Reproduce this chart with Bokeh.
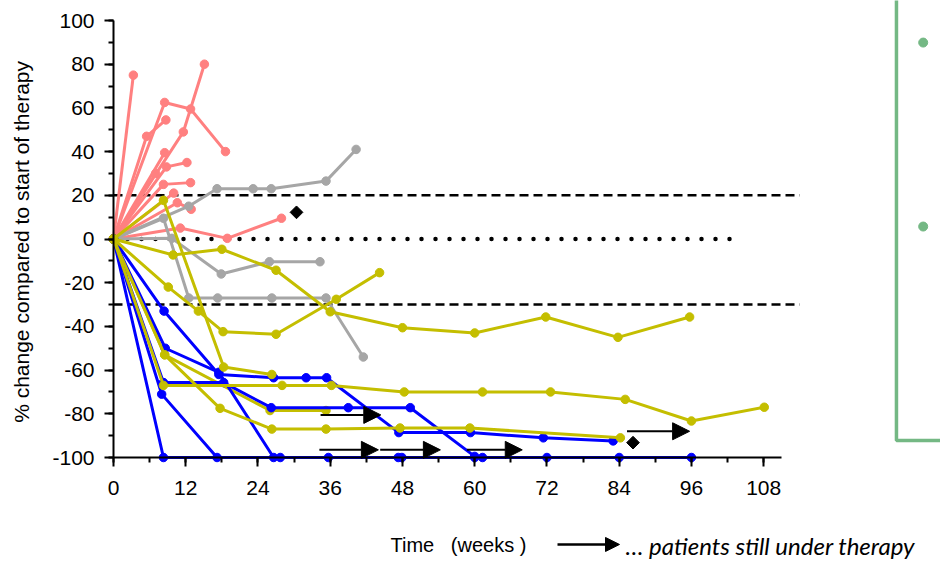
import math
from bokeh.plotting import figure
from bokeh.models import Arrow, NormalHead, Label, SingleIntervalTicker
from bokeh.embed import file_html
from bokeh.resources import INLINE

# ---------------- data (weeks, % change) ----------------
red_weeks = [
    [0, 3.3], [0, 8.5, 12.8, 18.6], [0, 11.6, 15.1], [0, 5.5, 8.7], [0, 8.5],
    [0, 8.8, 12.2], [0, 8.3, 12.8], [0, 10.6, 12.9], [0, 11.1, 18.9, 27.9],
    [0, 7.0], [0, 10.0],
]
red_values = [
    [0, 75], [0, 62.5, 59.5, 40], [0, 49, 80], [0, 47, 54.5], [0, 39.5],
    [0, 33, 35], [0, 25, 25.8], [0, 16.6, 13.6], [0, 5, 0.3, 9.5],
    [0, 30], [0, 21],
]

grey_weeks = [
    [0, 12.5, 17.2, 23.2, 26.2, 35.3, 40.3],
    [0, 8.3, 12.5, 17.3, 26.3, 35.3, 41.5],
    [0, 9.7, 17.9, 25.9, 34.3],
]
grey_values = [
    [0, 15, 23, 23, 23, 26.5, 41],
    [0, 9.5, -27, -27, -27, -27, -54],
    [0, 0.3, -16, -10.4, -10.4],
]

yellow_weeks = [
    [0, 8.5, 26, 35.3],
    [0, 8.3, 18.3, 26.3],
    [0, 9.9, 18, 27, 36, 48, 60, 71.8, 83.8, 95.7],
    [0, 9.1, 14.1, 18.2, 27, 37, 44.2],
    [0, 8.3, 28, 36.2, 48.3, 61.3, 72.6, 85, 96, 108.1],
    [0, 8.5, 17.7, 26.3, 35.3, 47.6, 59.2, 84.2],
]
yellow_values = [
    [0, -53, -78.5, -78.5],
    [0, 17.7, -58.6, -62],
    [0, -7.3, -4.7, -14.3, -33.3, -40.6, -43, -35.7, -45, -35.7],
    [0, -22, -33, -42.4, -43.6, -27.6, -15.4],
    [0, -67, -67, -67, -70, -70, -70, -73.4, -83.3, -77],
    [0, -53, -77.5, -87, -87, -86.5, -86.5, -91],
]

blue_weeks = [
    [0, 8.3, 35.7, 47.3, 60, 72, 84, 96],
    [0, 8, 17.2, 27.7, 47.9],
    [0, 8.6, 17.5, 26.6, 61.3],
    [0, 8.4, 17.5, 26.6, 32, 35.4, 47.4, 59.3, 71.4, 83],
    [0, 8.3, 18.3, 26.2, 39, 49.3, 60],
]
blue_values = [
    [0, -100, -100, -100, -100, -100, -100, -100],
    [0, -71, -100, -100, -100],
    [0, -50, -61, -100, -100],
    [0, -33, -62, -63.5, -63.5, -63.5, -88.6, -88.6, -91, -92.4],
    [0, -65.7, -65.7, -77.2, -77.2, -77.2, -99.5],
]

# "patients still under therapy" arrows
arrow_x0 = [34.4, 34.2, 44.3, 58.7, 85.3]
arrow_x1 = [44.4, 44.0, 54.3, 67.9, 95.7]
arrow_y = [-80.5, -96.5, -96.5, -96.5, -88.0]

# diamonds
diamond_x = [30.4, 86.3]
diamond_y = [12.2, -93.2]

# threshold lines
dashed_levels = [20, -30]
dotted_level = 0

x_ticks_interval = 12
y_ticks_interval = 20
y_tick_values = list(range(-100, 101, 20))

RED = "#FF8080"
GREY = "#A6A6A6"
YELLOW = "#C4BE00"
BLUE = "#0000FF"
GREEN = "#74B884"

W, H = 940, 563
X0PX, Y0PX = 113, 457   # pixel position of (0 weeks, -100 %)
PXW = 6.02              # px per week
PXV = 2.185             # px per % unit

p = figure(frame_width=W, frame_height=H,
           x_range=(-X0PX / PXW, (W - X0PX) / PXW),
           y_range=(-100 - (H - Y0PX) / PXV, -100 + Y0PX / PXV),
           output_backend="svg", toolbar_location=None,
           min_border_left=0, min_border_right=0,
           min_border_top=0, min_border_bottom=0)
p.outline_line_color = None
p.grid.visible = False
p.background_fill_color = "white"
p.border_fill_color = "white"

# threshold lines
for lvl in dashed_levels:
    p.line([0, 114], [lvl, lvl], line_color="black", line_width=2.5,
           line_dash="9 5")
p.line([0, 103], [dotted_level, dotted_level], line_color="black",
       line_width=4.5, line_dash="0 14", line_cap="round")


def draw(weeks, values, color):
    for w, v in zip(weeks, values):
        p.line(w, v, line_color=color, line_width=3)
        p.scatter(w, v, size=8.5, fill_color=color, line_color=color)


draw(red_weeks, red_values, RED)
draw(grey_weeks, grey_values, GREY)
draw(yellow_weeks[:1], yellow_values[:1], YELLOW)
draw(blue_weeks, blue_values, BLUE)
draw(yellow_weeks[1:], yellow_values[1:], YELLOW)

p.scatter(diamond_x, diamond_y, marker="square", size=9, angle=math.pi / 4,
          fill_color="black", line_color="black")

for x0, x1, y in zip(arrow_x0, arrow_x1, arrow_y):
    p.add_layout(Arrow(x_start=x0, y_start=y, x_end=x1, y_end=y,
                       line_color="black", line_width=2,
                       end=NormalHead(size=17, fill_color="black",
                                      line_color="black")))

# green box on the right (clipped part of a slide)
p.line([130.06, 130.06, 140], [110, -92.2, -92.2], line_color=GREEN,
       line_width=3.5)
p.scatter([134.5, 134.5], [89.9, 5.7], size=9, fill_color=GREEN,
          line_color=GREEN)

# axes
for ax in (p.xaxis, p.yaxis):
    ax.axis_line_width = 2
    ax.axis_line_color = "black"
    ax.major_tick_line_width = 2
    ax.minor_tick_line_width = 2
    ax.major_tick_line_color = "black"
    ax.minor_tick_line_color = "black"
    ax.major_tick_in = 0
    ax.major_tick_out = 9
    ax.minor_tick_in = 0
    ax.minor_tick_out = 5
    ax.major_label_text_font = "Liberation Sans"
    ax.major_label_text_font_size = "21px"
    ax.major_label_text_color = "black"

p.xaxis.fixed_location = -100
p.yaxis.fixed_location = 0
p.xaxis.bounds = (0, 111)
p.yaxis.bounds = (-100, 100)
p.xaxis.ticker = SingleIntervalTicker(interval=x_ticks_interval, num_minor_ticks=2)
p.yaxis.ticker = SingleIntervalTicker(interval=y_ticks_interval, num_minor_ticks=2)
p.yaxis.major_label_overrides = {v: str(v) for v in y_tick_values}
p.xaxis.major_label_standoff = 14
p.yaxis.major_label_standoff = 10

# y axis title
p.add_layout(Label(x=-92 / PXW, y=0, text="%  change compared to start of therapy",
                   angle=math.pi / 2, text_align="center", text_baseline="middle",
                   text_font="Liberation Sans", text_font_size="21px",
                   text_color="black"))

# bottom annotation texts
NB = "\u00a0"
TEXT_Y = -140.2
p.add_layout(Label(x=(390 - X0PX) / PXW, y=TEXT_Y,
                   text="Time" + NB * 3 + "(weeks" + NB + ")",
                   text_font="Liberation Sans", text_font_size="20px",
                   text_baseline="middle", text_color="black"))
p.add_layout(Arrow(x_start=(557 - X0PX) / PXW, y_start=-139.8,
                   x_end=(619 - X0PX) / PXW, y_end=-139.8,
                   line_color="black", line_width=2.5,
                   end=NormalHead(size=14, fill_color="black",
                                  line_color="black")))
p.add_layout(Label(x=(625 - X0PX) / PXW, y=TEXT_Y,
                   text="\u2026 patients still under therapy",
                   text_font="Lato", text_font_size="24px",
                   text_font_style="italic",
                   text_baseline="middle", text_color="black"))

open("out.html", "w").write(file_html(p, INLINE))
